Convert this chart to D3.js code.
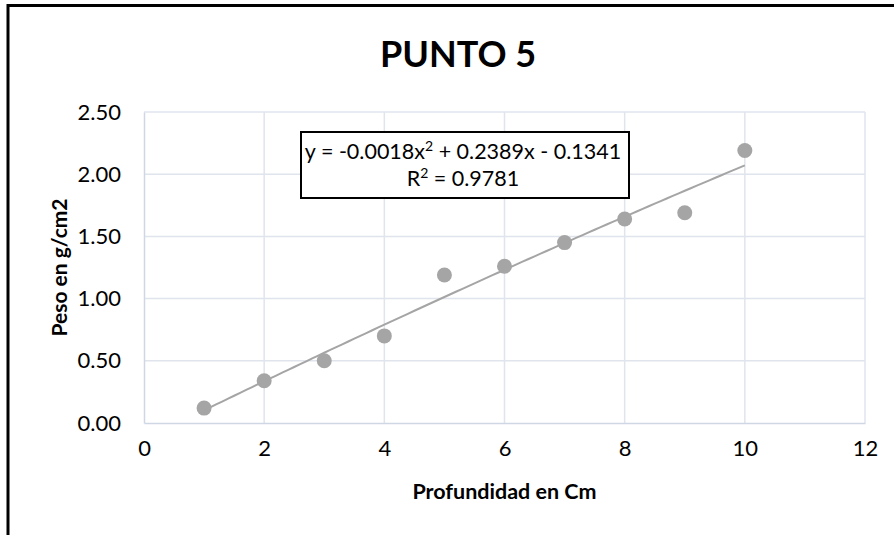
<!DOCTYPE html>
<html>
<head>
<meta charset="utf-8">
<script src="https://cdn.jsdelivr.net/npm/d3@7"></script>
<style>
  html, body { margin: 0; padding: 0; background: #fff; }
  svg { display: block; font-family: Lato, "Noto Sans", sans-serif; }
</style>
</head>
<body>
<svg id="chart" width="894" height="535"></svg>
<script>
// data
const profundidad = [1, 2, 3, 4, 5, 6, 7, 8, 9, 10];
const peso = [0.12, 0.34, 0.50, 0.70, 1.19, 1.26, 1.45, 1.64, 1.69, 2.19];
const xTicks = [0, 2, 4, 6, 8, 10, 12];
const yTicks = [0, 0.5, 1.0, 1.5, 2.0, 2.5];
const equationText = ['y = -0.0018x', '2', ' + 0.2389x - 0.1341'];
const r2Text = ['R', '2', ' = 0.9781'];

const margin = { top: 112, left: 144, bottom: 112, right: 29 };
const width = 894, height = 535;
const plotW = width - margin.left - margin.right;
const plotH = height - margin.top - margin.bottom;

const svg = d3.select('#chart');

// outer frame (only top and left edges are visible)
svg.append('path')
  .attr('d', 'M8,535 L8,5.5 L894,5.5')
  .attr('fill', 'none')
  .attr('stroke', '#000')
  .attr('stroke-width', 3);

const g = svg.append('g')
  .attr('transform', `translate(${margin.left}, ${margin.top})`);

const x = d3.scaleLinear().domain([0, 12]).range([0, plotW]);
const y = d3.scaleLinear().domain([0, 2.5]).range([plotH, 0]);

// gridlines
g.append('g').selectAll('line')
  .data(yTicks.filter(d => d > 0)).enter()
  .append('line')
  .attr('x1', 0).attr('x2', plotW)
  .attr('y1', d => y(d)).attr('y2', d => y(d))
  .attr('stroke', '#e0e4ec').attr('stroke-width', 1.5);
g.append('g').selectAll('line')
  .data(xTicks.filter(d => d > 0)).enter()
  .append('line')
  .attr('x1', d => x(d)).attr('x2', d => x(d))
  .attr('y1', 0).attr('y2', plotH)
  .attr('stroke', '#e0e4ec').attr('stroke-width', 1.5);

// axes
const xAxis = g.append('g')
  .attr('transform', `translate(0, ${plotH})`)
  .call(d3.axisBottom(x).tickValues(xTicks).tickSize(0).tickPadding(17).tickFormat(d3.format('d')));
const yAxis = g.append('g')
  .call(d3.axisLeft(y).tickValues(yTicks).tickSize(0).tickPadding(23).tickFormat(d3.format('.2f')));
[xAxis, yAxis].forEach(a => {
  a.select('.domain').attr('stroke', '#cfd7e4').attr('stroke-width', 1.5);
  a.selectAll('text').attr('font-family', 'Lato').attr('font-size', 22).attr('fill', '#000');
});

// polynomial (order 2) least squares trendline from the data
function quadFit(xs, ys) {
  const s = [0, 0, 0, 0, 0], t = [0, 0, 0];
  xs.forEach((xi, i) => {
    for (let k = 0; k < 5; k++) s[k] += Math.pow(xi, k);
    for (let k = 0; k < 3; k++) t[k] += ys[i] * Math.pow(xi, k);
  });
  const A = [[s[0], s[1], s[2], t[0]], [s[1], s[2], s[3], t[1]], [s[2], s[3], s[4], t[2]]];
  for (let c = 0; c < 3; c++) {
    for (let r = c + 1; r < 3; r++) {
      const f = A[r][c] / A[c][c];
      for (let k = c; k < 4; k++) A[r][k] -= f * A[c][k];
    }
  }
  const b = [0, 0, 0];
  for (let r = 2; r >= 0; r--) {
    let v = A[r][3];
    for (let k = r + 1; k < 3; k++) v -= A[r][k] * b[k];
    b[r] = v / A[r][r];
  }
  return b;
}
const coef = quadFit(profundidad, peso);
const trendX = d3.range(0, 91).map(i => 1 + i * 0.1);
const trend = trendX.map(xv => [xv, coef[0] + coef[1] * xv + coef[2] * xv * xv]);

g.append('path')
  .datum(trend)
  .attr('fill', 'none')
  .attr('stroke', '#a5a5a5')
  .attr('stroke-width', 2)
  .attr('d', d3.line().x(d => x(d[0])).y(d => y(d[1])));

// points
g.selectAll('.pt')
  .data(profundidad).enter()
  .append('circle')
  .classed('pt', true)
  .attr('cx', d => x(d))
  .attr('cy', (d, i) => y(peso[i]))
  .attr('r', 7.5)
  .attr('fill', '#a5a5a5');

// equation label
svg.append('rect')
  .attr('x', 301).attr('y', 132)
  .attr('width', 328).attr('height', 66)
  .attr('fill', '#fff')
  .attr('stroke', '#000')
  .attr('stroke-width', 2);

function supLine(parts, yPos) {
  const t = svg.append('text')
    .attr('x', 463).attr('y', yPos)
    .attr('text-anchor', 'middle')
    .attr('font-size', 21.5)
    .attr('fill', '#000');
  t.append('tspan').text(parts[0]);
  t.append('tspan').attr('dy', -8).attr('font-size', 14).text(parts[1]);
  t.append('tspan').attr('dy', 8).text(parts[2]);
}
supLine(equationText, 159);
supLine(r2Text, 186);

// title
svg.append('text')
  .attr('x', 458).attr('y', 67)
  .attr('text-anchor', 'middle')
  .attr('font-size', 36)
  .attr('font-weight', 'bold')
  .text('PUNTO 5');

// axis titles
svg.append('text')
  .attr('x', margin.left + plotW / 2).attr('y', 499)
  .attr('text-anchor', 'middle')
  .attr('font-size', 21.5)
  .attr('font-weight', 'bold')
  .text('Profundidad en Cm');

svg.append('text')
  .attr('transform', `translate(67, ${margin.top + plotH / 2}) rotate(-90)`)
  .attr('text-anchor', 'middle')
  .attr('font-size', 21)
  .attr('font-weight', 'bold')
  .text('Peso en g/cm2');
</script>
</body>
</html>
